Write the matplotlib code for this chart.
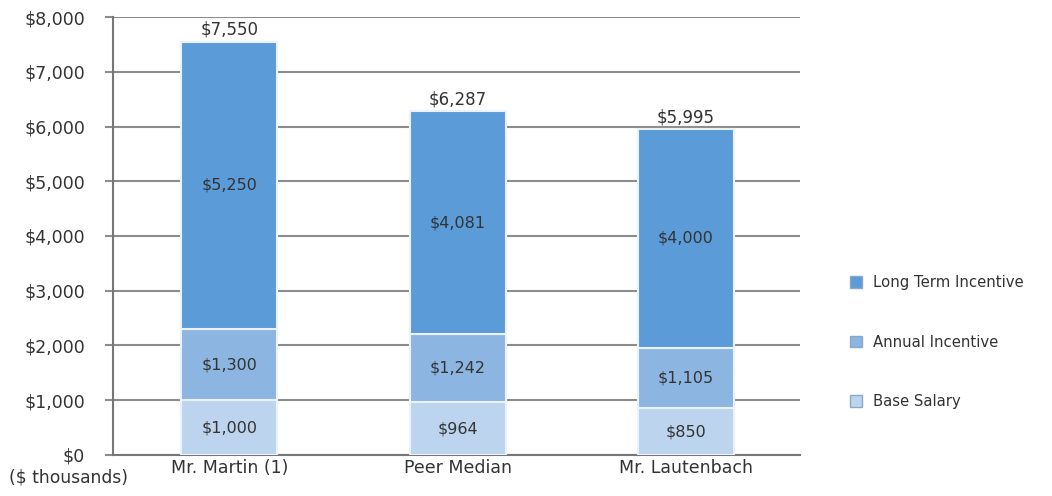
import matplotlib.pyplot as plt
import numpy as np
from matplotlib.patches import Patch

# Datos del grafico (miles de dolares)
categories = ["Mr. Martin (1)", "Peer Median", "Mr. Lautenbach"]
base_salary = [1000, 964, 850]
annual_incentive = [1300, 1242, 1105]
long_term = [5250, 4081, 4000]
total_labels = ["$7,550", "$6,287", "$5,995"]
y_ticks = [0, 1000, 2000, 3000, 4000, 5000, 6000, 7000, 8000]

colors = {"base": "#bcd4ee", "annual": "#8db5e1", "lti": "#5b9bd8"}


def money(v):
    return f"${v:,.0f}"


def main():
    fig = plt.figure(figsize=(10.52, 4.96), dpi=100)
    ax = fig.add_axes([0.1074, 0.0827, 0.653, 0.883])

    x = np.arange(len(categories))
    width = 0.42
    base = np.array(base_salary)
    annual = np.array(annual_incentive)
    lti = np.array(long_term)

    ax.bar(x, base, width, color=colors["base"], edgecolor="#eaf2fb", linewidth=1.5, zorder=3)
    ax.bar(x, annual, width, bottom=base, color=colors["annual"], edgecolor="#eaf2fb", linewidth=1.5, zorder=3)
    ax.bar(x, lti, width, bottom=base + annual, color=colors["lti"], edgecolor="#eaf2fb", linewidth=1.5, zorder=3)

    for i in range(len(categories)):
        ax.text(x[i], base[i] / 2, money(base[i]), ha="center", va="center", fontsize=11.5, color="#333333", zorder=4)
        ax.text(x[i], base[i] + annual[i] / 2, money(annual[i]), ha="center", va="center", fontsize=11.5, color="#333333", zorder=4)
        ax.text(x[i], base[i] + annual[i] + lti[i] / 2, money(lti[i]), ha="center", va="center", fontsize=11.5, color="#333333", zorder=4)
        top = base[i] + annual[i] + lti[i]
        ax.text(x[i], top + 50, total_labels[i], ha="center", va="bottom", fontsize=12, color="#333333", zorder=4)

    ax.set_xlim(-0.51, 2.5)
    ax.set_ylim(0, 8000)
    ax.set_yticks(y_ticks)
    ax.set_yticklabels([money(v) for v in y_ticks], fontsize=12.5, color="#333333")
    ax.set_xticks(x)
    ax.set_xticklabels(categories, fontsize=12.5, color="#333333")
    ax.tick_params(axis="y", length=6, width=1.5, color="#8c8c8c", pad=14)
    ax.tick_params(axis="x", length=0, pad=3)
    ax.grid(axis="y", color="#8c8c8c", linewidth=1.5, zorder=0)

    for side in ["top", "right"]:
        ax.spines[side].set_visible(False)
    ax.spines["left"].set_color("#777777")
    ax.spines["left"].set_linewidth(1.5)
    ax.spines["bottom"].set_color("#777777")
    ax.spines["bottom"].set_linewidth(1.5)

    fig.text(0.009, 0.028, "($ thousands)", fontsize=12.3, color="#333333")

    handles = [
        Patch(facecolor=colors["lti"], edgecolor="#8aa9c9", label="Long Term Incentive"),
        Patch(facecolor=colors["annual"], edgecolor="#8aa9c9", label="Annual Incentive"),
        Patch(facecolor=colors["base"], edgecolor="#8aa9c9", label="Base Salary"),
    ]
    fig.legend(handles=handles, loc="center left", bbox_to_anchor=(0.795, 0.31),
               frameon=False, fontsize=10.7, labelspacing=3.0,
               handlelength=0.8, handleheight=0.8, handletextpad=0.8,
               labelcolor="#333333")

    fig.savefig("out.png", dpi=100)


if __name__ == "__main__":
    main()
